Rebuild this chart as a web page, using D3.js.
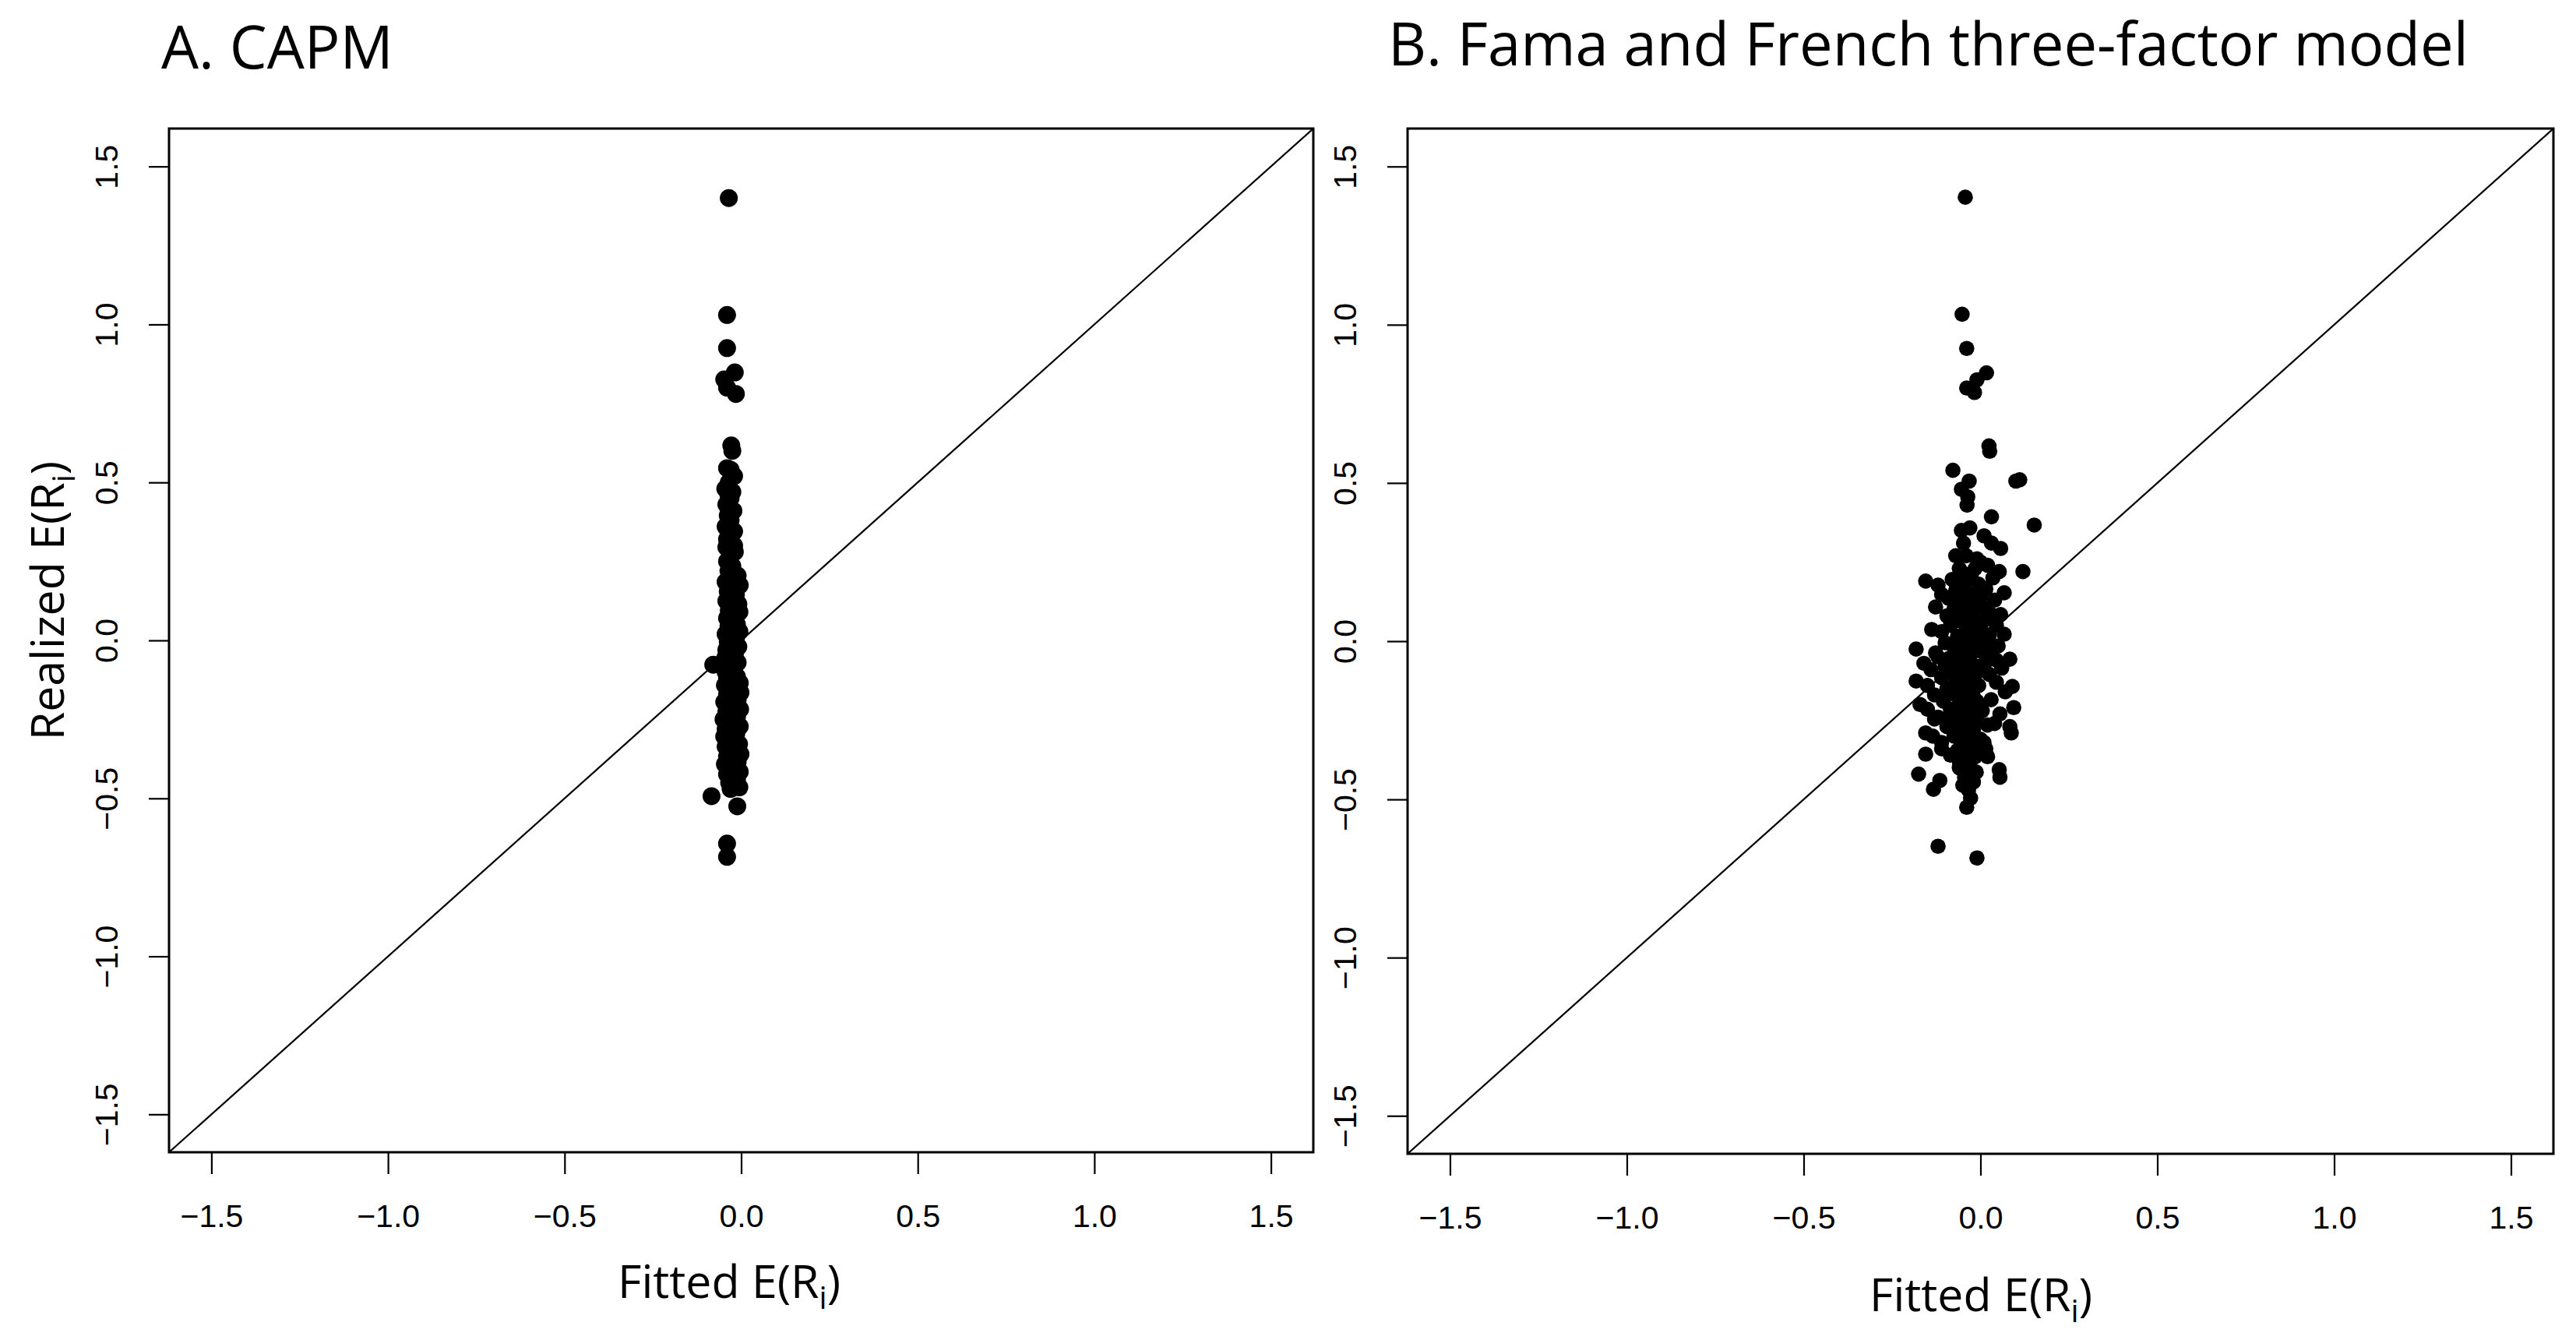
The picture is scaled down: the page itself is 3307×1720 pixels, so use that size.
<!DOCTYPE html>
<html>
<head>
<meta charset="utf-8">
<script src="https://cdn.jsdelivr.net/npm/d3@7"></script>
<style>
  html, body { margin: 0; padding: 0; background: #fff; }
  svg { display: block; }
</style>
</head>
<body>
<svg id="chart" width="3307" height="1720"></svg>
<script>
// ---------------- DATA ----------------
const panelTitles = ["A. CAPM", "B. Fama and French three-factor model"];
const xAxisTitle = "Fitted E(R";
const yAxisTitle = "Realized E(R";
const axisTicks = [-1.5, -1.0, -0.5, 0.0, 0.5, 1.0, 1.5];
const axisLimits = [-1.62, 1.62];

// Panel A: CAPM (fitted vs realized expected returns)
const capmFitted = [
  -0.035, -0.040, -0.040, -0.018, -0.048, -0.040, -0.015, -0.028, -0.025,
  -0.040, -0.020, -0.035, -0.045, -0.025, -0.030, -0.042, -0.022, -0.038, -0.030,
  -0.044, -0.020, -0.035, -0.028, -0.042, -0.018, -0.032, -0.040, -0.025, -0.036,
  -0.010, -0.030, -0.044, -0.004, -0.022, -0.038, -0.015, -0.030, -0.042, -0.008,
  -0.025, -0.035, -0.005, -0.018, -0.040, -0.028, -0.012, -0.036, -0.022, -0.005,
  -0.044, -0.030, -0.015, -0.038, -0.024, -0.008, -0.042, -0.032, -0.018, -0.045,
  -0.026, -0.010, -0.079, -0.036, -0.020, -0.044, -0.028, -0.012, -0.040, -0.024,
  -0.004, -0.046, -0.032, -0.016, -0.002, -0.040, -0.026, -0.010, -0.048, -0.034,
  -0.018, -0.003, -0.042, -0.028, -0.012, -0.050, -0.036, -0.020, -0.004, -0.044,
  -0.030, -0.014, -0.048, -0.038, -0.022, -0.006, -0.044, -0.030, -0.016, -0.002,
  -0.040, -0.026, -0.010, -0.046, -0.032, -0.018, -0.004, -0.040, -0.026, -0.012,
  -0.034, -0.020, -0.005, -0.084, -0.011, -0.040, -0.040,
  -0.030, -0.032, -0.020, -0.040, -0.026, -0.036, -0.018, -0.034, -0.020, -0.030,
  -0.020, -0.032, -0.022, -0.034, -0.016, -0.030
];
const capmRealized = [
  1.400, 1.030, 0.925, 0.848, 0.826, 0.800, 0.780, 0.617, 0.600,
  0.545, 0.520, 0.500, 0.480, 0.470, 0.450, 0.430, 0.410, 0.395, 0.380,
  0.360, 0.345, 0.330, 0.310, 0.295, 0.280, 0.265, 0.250, 0.235, 0.220,
  0.205, 0.195, 0.185, 0.175, 0.165, 0.155, 0.145, 0.135, 0.125, 0.115,
  0.105, 0.095, 0.090, 0.080, 0.070, 0.060, 0.050, 0.045, 0.035, 0.028,
  0.020, 0.012, 0.005, -0.005, -0.012, -0.020, -0.030, -0.038, -0.045, -0.055,
  -0.062, -0.070, -0.077, -0.085, -0.092, -0.100, -0.108, -0.115, -0.122, -0.130,
  -0.135, -0.142, -0.150, -0.158, -0.165, -0.172, -0.180, -0.188, -0.195, -0.202,
  -0.210, -0.218, -0.226, -0.234, -0.242, -0.250, -0.258, -0.265, -0.272, -0.280,
  -0.288, -0.296, -0.304, -0.312, -0.320, -0.328, -0.336, -0.344, -0.352, -0.360,
  -0.368, -0.376, -0.384, -0.392, -0.400, -0.408, -0.416, -0.424, -0.432, -0.440,
  -0.450, -0.458, -0.465, -0.493, -0.525, -0.643, -0.685,
  0.540, 0.230, 0.300, 0.320, 0.410, 0.460, 0.180, 0.110, 0.020, -0.030,
  -0.140, -0.220, -0.300, -0.360, -0.420, -0.470
];

// Panel B: Fama and French three-factor model
const ffFitted = [
  -0.043, -0.052, -0.039, 0.017, -0.010, -0.039, -0.017, 0.024, 0.026, -0.078,
  -0.032, -0.054, 0.111, 0.100, -0.036, -0.038, 0.031, 0.152, -0.054, -0.030,
  -0.048, 0.010, 0.031, 0.057, 0.000, 0.120, -0.155, -0.120, -0.110, -0.127,
  -0.055, 0.053, 0.067, -0.138, -0.182, -0.127, 0.083, 0.067, 0.057, -0.182,
  -0.171, 0.090, 0.094, 0.083, 0.087, 0.040, -0.155, -0.155, -0.175, -0.115,
  -0.133, 0.020, 0.053, 0.055, -0.012, -0.028, -0.039, -0.034, -0.060, -0.120,
  -0.010, 0.000, -0.130, -0.110,
  -0.040, -0.010, 0.020, -0.060, -0.025, 0.035, -0.080, -0.045, -0.005, 0.015,
  -0.070, -0.030, -0.090, 0.040, -0.055, -0.015, 0.010, -0.075, -0.040, 0.030,
  -0.095, -0.020, -0.060, 0.005, 0.045, -0.085, -0.035, -0.110, -0.010, 0.025,
  -0.065, -0.045, 0.010, -0.100, -0.025, 0.050, -0.075, -0.005, -0.050, 0.030,
  -0.120, -0.090, -0.030, 0.015, -0.060, -0.010, 0.060, -0.140, -0.040, -0.080,
  0.025, -0.110, -0.020, -0.060, 0.045, -0.150, -0.005, -0.095, -0.040, 0.070,
  -0.130, -0.070, -0.020, 0.030, -0.105, -0.050, 0.000, -0.150, -0.085, -0.030,
  0.055, -0.120, -0.060, -0.010, 0.020, -0.095, -0.045, -0.135, -0.075, -0.025,
  0.010, -0.110, -0.055, -0.040, -0.085, -0.015, -0.060, -0.030, -0.045, -0.020,
  -0.050, -0.070, -0.015, 0.000, -0.050, -0.030, -0.070, -0.015, -0.035, -0.040,
  -0.010, -0.070, -0.100, 0.045, -0.160,
  -0.030, -0.050, -0.015, -0.065, -0.040, -0.005, -0.080, -0.025, -0.055, -0.035,
  -0.010, -0.070, -0.045, -0.020, -0.090, -0.030, -0.060, 0.005, -0.040, -0.075,
  -0.020, -0.050, -0.035, 0.015, -0.065, -0.025, -0.045, -0.085, -0.010, -0.055,
  -0.030, -0.040, 0.020, -0.070, -0.015, -0.050
];
const ffRealized = [
  1.403, 1.033, 0.925, 0.848, 0.826, 0.800, 0.786, 0.617, 0.600, 0.540,
  0.506, 0.480, 0.510, 0.506, 0.456, 0.430, 0.393, 0.367, 0.350, 0.358,
  0.310, 0.333, 0.310, 0.293, 0.250, 0.220, 0.190, 0.177, 0.148, 0.108,
  0.220, 0.220, 0.153, 0.037, -0.025, -0.037, -0.057, 0.022, 0.084, -0.126,
  -0.200, -0.143, -0.210, -0.270, -0.290, -0.260, -0.290, -0.357, -0.420, -0.440,
  -0.468, -0.365, -0.406, -0.430, -0.414, -0.496, -0.525, -0.470, -0.400, -0.648,
  -0.685, -0.310, -0.246, -0.340,
  0.270, 0.260, 0.240, 0.230, 0.215, 0.200, 0.195, 0.185, 0.180, 0.165,
  0.160, 0.150, 0.135, 0.130, 0.125, 0.120, 0.105, 0.100, 0.095, 0.085,
  0.080, 0.075, 0.065, 0.060, 0.050, 0.050, 0.045, 0.030, 0.030, 0.020,
  0.015, 0.005, 0.000, -0.005, -0.010, -0.015, -0.020, -0.030, -0.035, -0.040,
  -0.050, -0.055, -0.060, -0.065, -0.075, -0.080, -0.085, -0.090, -0.095, -0.100,
  -0.105, -0.115, -0.115, -0.125, -0.130, -0.140, -0.140, -0.150, -0.155, -0.160,
  -0.170, -0.170, -0.175, -0.185, -0.190, -0.195, -0.205, -0.215, -0.215, -0.225,
  -0.230, -0.240, -0.245, -0.250, -0.265, -0.270, -0.275, -0.300, -0.300, -0.295,
  -0.320, -0.320, -0.330, -0.350, -0.360, -0.365, -0.380, -0.395, -0.430, -0.445,
  -0.455, 0.270, 0.230, 0.140, 0.100, 0.010, -0.045, -0.105, -0.190, -0.255,
  -0.330, -0.250, -0.080, -0.060, -0.070,
  0.200, 0.160, 0.110, 0.070, 0.040, 0.020, -0.010, -0.025, -0.045, -0.070,
  -0.090, -0.110, -0.130, -0.150, -0.160, -0.180, -0.200, -0.220, -0.235, -0.260,
  -0.280, -0.300, -0.315, -0.340, -0.345, -0.370, -0.410, -0.235, -0.190, -0.150,
  -0.065, 0.130, -0.010, -0.130, 0.055, -0.285
];

// ---------------- LAYOUT ----------------
const svg = d3.select("#chart");
svg.append("rect").attr("width", 3307).attr("height", 1720).attr("fill", "#fff");

const panels = [
  { title: panelTitles[0], fitted: capmFitted, realized: capmRealized,
    left: 217, right: 1686, top: 165, bottom: 1479, r: 11.5,
    titleX: 207, titleY: 88, showY: true, xTitleX: 936, xTitleY: 1666 },
  { title: panelTitles[1], fitted: ffFitted, realized: ffRealized,
    left: 1807, right: 3278, top: 165, bottom: 1481, r: 9.8,
    titleX: 1782, titleY: 84, showY: false, xTitleX: 2543, xTitleY: 1683 }
];

const fmt = d3.format(".1f");
const tickFont = "'Liberation Sans', Arial, Helvetica, sans-serif";
const labelFont = "'Open Sans', 'Noto Sans', sans-serif";

panels.forEach(p => {
  const x = d3.scaleLinear().domain(axisLimits).range([p.left, p.right]);
  const y = d3.scaleLinear().domain(axisLimits).range([p.bottom, p.top]);
  const g = svg.append("g");

  // title
  g.append("text")
    .attr("x", p.titleX).attr("y", p.titleY)
    .attr("font-family", labelFont).attr("font-size", 76)
    .attr("fill", "#000")
    .text(p.title);

  // diagonal 45-degree line
  const clipId = "clip" + p.left;
  svg.append("clipPath").attr("id", clipId)
    .append("rect").attr("x", p.left).attr("y", p.top)
    .attr("width", p.right - p.left).attr("height", p.bottom - p.top);
  g.append("path")
    .datum(axisLimits.map(v => [v, v]))
    .attr("clip-path", `url(#${clipId})`)
    .attr("d", d3.line().x(d => x(d[0])).y(d => y(d[1])))
    .attr("stroke", "#000").attr("stroke-width", 2.2).attr("fill", "none");

  // points
  g.append("g").selectAll("circle")
    .data(p.fitted.map((f, i) => [f, p.realized[i]]))
    .join("circle")
    .attr("cx", d => x(d[0])).attr("cy", d => y(d[1]))
    .attr("r", p.r).attr("fill", "#000");

  // axes
  const xAxis = g.append("g").attr("transform", `translate(0,${p.bottom})`)
    .call(d3.axisBottom(x).tickValues(axisTicks).tickFormat(fmt).tickSize(28).tickPadding(39));
  const yAxis = g.append("g").attr("transform", `translate(${p.left},0)`)
    .call(d3.axisLeft(y).tickValues(axisTicks).tickFormat(fmt).tickSize(26));
  [xAxis, yAxis].forEach(a => {
    a.select(".domain").remove();
    a.selectAll(".tick line").attr("stroke", "#000").attr("stroke-width", 2.2);
    a.selectAll(".tick text").attr("font-family", tickFont).attr("font-size", 41).attr("fill", "#000");
  });
  yAxis.selectAll(".tick text")
    .attr("x", null).attr("dy", null)
    .attr("text-anchor", "middle")
    .attr("transform", "translate(-66,0) rotate(-90)");

  // frame
  g.append("rect")
    .attr("x", p.left).attr("y", p.top)
    .attr("width", p.right - p.left).attr("height", p.bottom - p.top)
    .attr("fill", "none").attr("stroke", "#000").attr("stroke-width", 3);

  // x title with subscript
  const xt = g.append("text")
    .attr("x", p.xTitleX).attr("y", p.xTitleY)
    .attr("text-anchor", "middle")
    .attr("font-family", labelFont).attr("font-size", 59).attr("fill", "#000");
  xt.append("tspan").text(xAxisTitle);
  xt.append("tspan").attr("font-size", 40).attr("dy", 14).text("i");
  xt.append("tspan").attr("dy", -14).text(")");

  if (p.showY) {
    const yt = g.append("text")
      .attr("transform", "translate(82,771) rotate(-90)")
      .attr("text-anchor", "middle")
      .attr("font-family", labelFont).attr("font-size", 59).attr("fill", "#000");
    yt.append("tspan").text(yAxisTitle);
    yt.append("tspan").attr("font-size", 40).attr("dy", 14).text("i");
    yt.append("tspan").attr("dy", -14).text(")");
  }
});
</script>
</body>
</html>
